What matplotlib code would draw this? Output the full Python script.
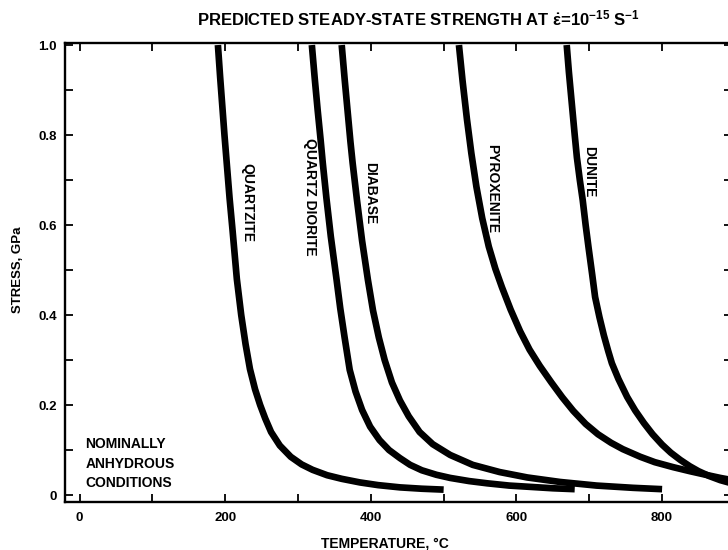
import matplotlib
matplotlib.use("Agg")
import matplotlib.pyplot as plt
from matplotlib.ticker import MultipleLocator, FixedLocator

plt.rcParams['font.family'] = ['Liberation Sans', 'DejaVu Sans']
plt.rcParams['font.weight'] = 'bold'
plt.rcParams['mathtext.fontset'] = 'custom'
plt.rcParams['mathtext.rm'] = 'Liberation Sans:bold'
plt.rcParams['mathtext.it'] = 'Liberation Sans:bold'
plt.rcParams['mathtext.bf'] = 'Liberation Sans:bold'

# ---- data (temperature °C, stress GPa) ----
quartzite_T = [190, 193, 196, 199, 202, 206, 210, 216, 222, 228, 234, 241, 248, 255, 263, 275,
               290, 305, 320, 340, 360, 385, 410, 440, 470, 500]
quartzite_S = [1.0, 0.93, 0.865, 0.80, 0.74, 0.66, 0.59, 0.48, 0.40, 0.335, 0.28, 0.235, 0.20,
               0.17, 0.14, 0.11, 0.085, 0.068, 0.056, 0.044, 0.036, 0.028, 0.022, 0.017, 0.014, 0.012]

qdiorite_T = [319, 323, 327, 331, 334, 339, 345, 353, 358, 364, 371, 379, 388, 399, 412, 425,
              440, 454, 470, 490, 509, 535, 560, 590, 620, 650, 680]
qdiorite_S = [1.0, 0.925, 0.855, 0.79, 0.738, 0.66, 0.575, 0.478, 0.415, 0.35, 0.278, 0.23,
              0.189, 0.152, 0.122, 0.100, 0.082, 0.067, 0.055, 0.045, 0.038, 0.031, 0.026,
              0.021, 0.018, 0.015, 0.013]

diabase_T = [360, 364, 368, 372, 375, 381, 388, 396, 403, 411, 419, 429, 440, 452, 467, 485,
             509, 540, 577, 615, 660, 710, 760, 800]
diabase_S = [1.0, 0.925, 0.855, 0.785, 0.738, 0.655, 0.565, 0.478, 0.41, 0.35, 0.30, 0.25,
             0.21, 0.175, 0.14, 0.113, 0.089, 0.067, 0.051, 0.039, 0.029, 0.021, 0.016, 0.013]

pyroxenite_T = [521, 526, 532, 538, 545, 553, 562, 571, 580, 592, 605, 618, 632, 648, 663,
                678, 695, 712, 730, 746, 770, 790, 815, 838, 860, 880, 900]
pyroxenite_S = [1.0, 0.92, 0.835, 0.76, 0.685, 0.615, 0.552, 0.503, 0.462, 0.412, 0.364,
                0.323, 0.287, 0.25, 0.217, 0.187, 0.158, 0.135, 0.116, 0.102, 0.085, 0.073,
                0.062, 0.053, 0.045, 0.038, 0.032]

dunite_T = [669, 672, 676, 680, 683, 687, 691, 695, 699, 704, 708, 714, 720, 726, 731, 740,
            752, 763, 775, 787, 800, 812, 825, 838, 850, 865, 880, 900]
dunite_S = [1.0, 0.94, 0.87, 0.80, 0.75, 0.70, 0.655, 0.60, 0.55, 0.49, 0.44, 0.395, 0.355,
            0.32, 0.293, 0.258, 0.218, 0.188, 0.160, 0.135, 0.112, 0.094, 0.078, 0.064,
            0.053, 0.042, 0.033, 0.024]

curve_labels = ["QUARTZITE", "QUARTZ DIORITE", "DIABASE", "PYROXENITE", "DUNITE"]
label_T = [230, 316, 399, 566, 700]
label_S = [0.649, 0.662, 0.671, 0.682, 0.718]

note_text = "NOMINALLY\nANHYDROUS\nCONDITIONS"

x_ticks = [0, 200, 400, 600, 800]
y_ticks = [0, 0.2, 0.4, 0.6, 0.8, 1.0]
y_ticklabels = ["0", "0.2", "0.4", "0.6", "0.8", "1.0"]

# ---- figure ----
W, H = 728, 550
fig = plt.figure(figsize=(W / 100, H / 100), dpi=100)
ax = fig.add_axes([65 / W, 48 / H, (732 - 65) / W, (502 - 43) / H])

series = [(quartzite_T, quartzite_S), (qdiorite_T, qdiorite_S), (diabase_T, diabase_S),
          (pyroxenite_T, pyroxenite_S), (dunite_T, dunite_S)]
for T, S in series:
    ax.plot(T, S, color='black', lw=4.8, solid_capstyle='butt', solid_joinstyle='round')

for txt, t, s in zip(curve_labels, label_T, label_S):
    ax.text(t, s, txt, rotation=270, ha='center', va='center', fontsize=10, fontweight='bold')

ax.text(8, 0.069, note_text, ha='left', va='center', fontsize=10,
        fontweight='bold', linespacing=1.5)

ax.set_xlim(-20, 896)
ax.set_ylim(-0.0155, 1.0045)
ax.xaxis.set_major_locator(FixedLocator(x_ticks))
ax.xaxis.set_minor_locator(MultipleLocator(100))
ax.yaxis.set_major_locator(FixedLocator(y_ticks))
ax.yaxis.set_minor_locator(MultipleLocator(0.1))
ax.set_xticklabels([str(v) for v in x_ticks])
ax.set_yticklabels(y_ticklabels)
ax.tick_params(which='both', direction='in', top=True, right=True, width=1.3,
               length=6, labelsize=9.5)
ax.tick_params(axis='x', pad=7)
ax.tick_params(axis='y', pad=6)
for lab in ax.get_xticklabels() + ax.get_yticklabels():
    lab.set_fontweight('bold')
for sp in ax.spines.values():
    sp.set_linewidth(1.7)

fig.text(385 / W, 1 - 543 / H, "TEMPERATURE, °C", ha='center', va='center',
         fontsize=10, fontweight='bold')
fig.text(18 / W, 1 - 270 / H, "STRESS, GPa", ha='center', va='center', rotation=90,
         fontsize=9.5, fontweight='bold')

fig.text(418 / W, 1 - 18 / H,
         r"PREDICTED STEADY-STATE STRENGTH AT $\dot{\epsilon}$=10$^{-15}$ S$^{-1}$",
         ha='center', va='center', fontsize=12, fontweight='bold')

fig.savefig("out.png", dpi=100)
